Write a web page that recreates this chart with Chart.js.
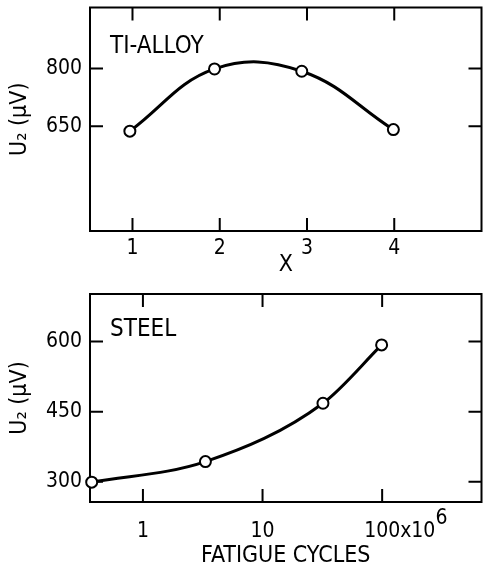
<!DOCTYPE html>
<html>
<head>
<meta charset="utf-8">
<script src="https://cdn.jsdelivr.net/npm/chart.js@4.4.1/dist/chart.umd.min.js"></script>
<style>
  body { margin: 0; background: #fff; }
  .panel { position: absolute; left: 0; width: 489px; height: 285px; }
</style>
</head>
<body>
<div class="panel" style="top:0"><canvas id="alloyChart"></canvas></div>
<div class="panel" style="top:285px"><canvas id="steelChart"></canvas></div>
<script>
// Ti-alloy panel
const alloyX = [0.97, 1.94, 2.94, 3.99];
const alloyU2 = [637, 799, 793, 641];
const alloyXTicks = [1, 2, 3, 4];
const alloyYTicks = [650, 800];

// Steel panel (fatigue cycles in units of 10^6)
const steelCycles = [0.373, 3.33, 32, 99];
const steelU2 = [299, 343, 468, 593];
const steelXTicks = [1, 10, 100];
const steelYTicks = [300, 450, 600];

const FAMILY = "'Liberation Sans Narrow', 'DejaVu Sans Condensed', 'Liberation Sans', sans-serif";
const tickFont = { family: FAMILY, size: 21, lineHeight: 1 };
const titleFont = { family: FAMILY, size: 23, lineHeight: 1 };

// box + inward tick marks on all four sides
const frame = {
    id: 'frame',
    beforeDatasetsDraw(chart) {
        const { ctx, chartArea: a, scales: { x, y } } = chart;
        const len = 13;
        ctx.save();
        ctx.strokeStyle = '#000';
        ctx.lineWidth = 2;
        ctx.strokeRect(a.left, a.top, a.right - a.left, a.bottom - a.top);
        ctx.beginPath();
        x.ticks.forEach(t => {
            const px = x.getPixelForValue(t.value);
            ctx.moveTo(px, a.bottom); ctx.lineTo(px, a.bottom - len);
            ctx.moveTo(px, a.top); ctx.lineTo(px, a.top + len);
        });
        y.ticks.forEach(t => {
            const py = y.getPixelForValue(t.value);
            ctx.moveTo(a.left, py); ctx.lineTo(a.left + len, py);
            ctx.moveTo(a.right, py); ctx.lineTo(a.right - len, py);
        });
        ctx.stroke();
        ctx.restore();
    }
};

// material label inside the box
const panelLabel = {
    id: 'panelLabel',
    afterDraw(chart, args, opts) {
        const { ctx, chartArea: a } = chart;
        ctx.save();
        ctx.fillStyle = '#000';
        ctx.font = `24px ${FAMILY}`;
        ctx.textBaseline = 'alphabetic';
        ctx.fillText(opts.text, a.left + 20, a.top + opts.dy);
        ctx.restore();
    }
};

function makeChart(id, xs, ys, cfg) {
    return new Chart(document.getElementById(id), {
        type: 'line',
        data: {
            datasets: [{
                data: xs.map((v, i) => ({ x: v, y: ys[i] })),
                borderColor: '#000',
                borderWidth: 3,
                tension: 0.4,
                cubicInterpolationMode: cfg.curve,
                pointRadius: 5.5,
                pointBorderWidth: 2,
                pointBackgroundColor: '#fff',
                pointBorderColor: '#000',
                clip: false
            }]
        },
        options: {
            responsive: true,
            maintainAspectRatio: false,
            animation: false,
            layout: { padding: { top: cfg.padTop, right: 3, left: 0, bottom: 0 } },
            plugins: {
                legend: { display: false },
                tooltip: { enabled: false },
                panelLabel: { text: cfg.label, dy: cfg.labelDy }
            },
            scales: {
                x: {
                    type: cfg.xType,
                    min: cfg.xMin, max: cfg.xMax,
                    afterBuildTicks: s => { s.ticks = cfg.xTicks.map(v => ({ value: v })); },
                    afterFit: s => { s.height = cfg.xHeight; s.paddingLeft = 0; s.paddingRight = 0; },
                    grid: { display: false, drawTicks: false },
                    border: { display: false },
                    ticks: {
                        font: tickFont, color: '#000', padding: cfg.xTickPad,
                        maxRotation: 0, autoSkip: false,
                        callback: v => String(v)
                    },
                    title: {
                        display: true, text: cfg.xTitle, font: titleFont, color: '#000',
                        padding: { top: 0, bottom: cfg.xTitlePad }
                    }
                },
                y: {
                    min: cfg.yMin, max: cfg.yMax,
                    afterBuildTicks: s => { s.ticks = cfg.yTicks.map(v => ({ value: v })); },
                    // fixed axis width, and no label overhang above/below the box
                    afterFit: s => { s.width = 90; s.paddingTop = 0; s.paddingBottom = 0; },
                    grid: { display: false, drawTicks: false },
                    border: { display: false },
                    ticks: { font: tickFont, color: '#000', padding: 8, callback: v => String(v) },
                    title: {
                        display: true, text: 'U\u2082 (\u03bcV)', font: titleFont, color: '#000',
                        padding: { top: 9, bottom: 0 }
                    }
                }
            }
        },
        plugins: [frame, panelLabel].concat(cfg.extra || [])
    });
}

// "x10^6" after the 100 tick label
const exponentSuffix = {
    id: 'exponentSuffix',
    afterDraw(chart) {
        const { ctx, scales: { x } } = chart;
        const px = x.getPixelForValue(100);
        ctx.save();
        ctx.fillStyle = '#000';
        ctx.font = `21px ${FAMILY}`;
        ctx.textBaseline = 'middle';
        const w = ctx.measureText('100').width;
        const cy = x.top + 19 + 10.5;
        ctx.fillText('x10', px + w / 2, cy);
        const w2 = ctx.measureText('x10').width;
        ctx.fillText('6', px + w / 2 + w2, cy - 13);
        ctx.restore();
    }
};

makeChart('alloyChart', alloyX, alloyU2, {
    label: 'TI-ALLOY', labelDy: 45, padTop: 5, curve: 'default',
    xType: 'linear', xMin: 0.513, xMax: 5.0, xTicks: alloyXTicks,
    xHeight: 54, xTickPad: 7, xTitlePad: 8, xTitle: 'X',
    yMin: 377, yMax: 959, yTicks: alloyYTicks
});

makeChart('steelChart', steelCycles, steelU2, {
    label: 'STEEL', labelDy: 42, padTop: 9, curve: 'monotone',
    xType: 'logarithmic', xMin: 0.361, xMax: 677, xTicks: steelXTicks,
    xHeight: 68, xTickPad: 19, xTitlePad: 2, xTitle: 'FATIGUE CYCLES',
    yMin: 256.5, yMax: 702, yTicks: steelYTicks,
    extra: [exponentSuffix]
});
</script>
</body>
</html>
